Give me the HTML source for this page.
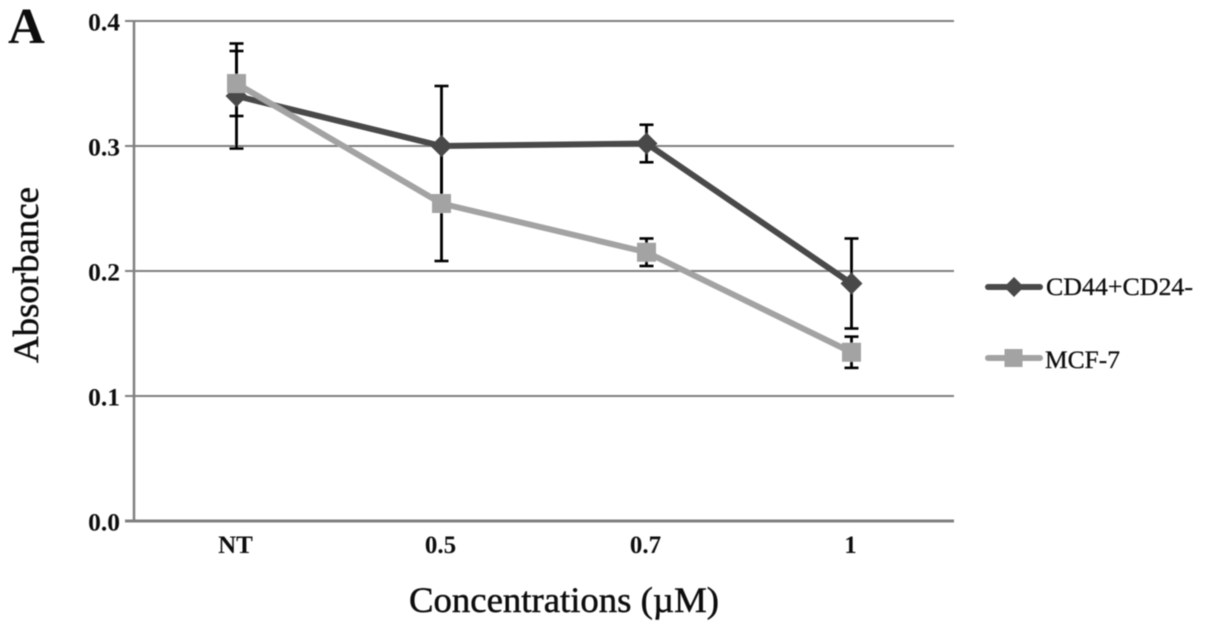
<!DOCTYPE html>
<html>
<head>
<meta charset="utf-8">
<style>
html,body{margin:0;padding:0;background:#fff;width:1205px;height:632px;overflow:hidden}
svg{display:block}
text{font-family:"Liberation Serif",serif;fill:#111}
</style>
</head>
<body>
<svg id="chart" width="1205" height="632" viewBox="0 0 1205 632" xmlns="http://www.w3.org/2000/svg">
<defs><filter id="soft"><feGaussianBlur stdDeviation="0.5"/></filter></defs>
<g id="root" filter="url(#soft)"></g>
</svg>
<script>
const categories = ["NT", "0.5", "0.7", "1"];
const yTicks = [0.0, 0.1, 0.2, 0.3, 0.4];
const darkName = "CD44+CD24-";
const lightName = "MCF-7";
const darkValues = [0.340, 0.300, 0.302, 0.190];
const darkErrors = [0.042, 0.048, 0.015, 0.036];
const lightValues = [0.350, 0.254, 0.215, 0.135];
const lightErrors = [0.026, 0.046, 0.011, 0.0125];

const NS = "http://www.w3.org/2000/svg";
const root = document.getElementById("root");
const plotLeft = 134, plotRight = 954, plotTop = 21, plotBottom = 521;
const yMax = 0.4;
function yScale(v){ return plotBottom - (v / yMax) * (plotBottom - plotTop); }
function xScale(i){ return plotLeft + (i + 0.5) * (plotRight - plotLeft) / categories.length; }
function add(tag, attrs, text){
  const el = document.createElementNS(NS, tag);
  for (const k in attrs) el.setAttribute(k, attrs[k]);
  if (text !== undefined) el.textContent = text;
  root.appendChild(el);
  return el;
}
function diamondPoints(cx, cy, r){
  return [[cx, cy - r], [cx + r, cy], [cx, cy + r], [cx - r, cy]].map(p => p.join(",")).join(" ");
}

// gridlines and y ticks
yTicks.forEach(function(t){
  const y = yScale(t);
  const line = add("line", {x1: plotLeft - 9, x2: plotRight, y1: y, y2: y, stroke: "#808080", "stroke-width": t === 0 ? 3 : 2});
  
  
  const label = add("text", {x: 120, y: y + 9.5, "text-anchor": "end", "font-size": 25.5, "font-weight": "bold"}, t.toFixed(1));
  
  
});

// y axis
const yAxis = add("line", {x1: plotLeft, x2: plotLeft, y1: plotTop, y2: plotBottom, stroke: "#808080", "stroke-width": 2.5});



// x labels
categories.forEach(function(c, i){
  const label = add("text", {x: xScale(i) - 1, y: 553, "text-anchor": "middle", "font-size": 25, "font-weight": "bold"}, c);
  
  
});

function drawErrors(values, errors){
  values.forEach(function(v, i){
    const x = xScale(i), hi = yScale(v + errors[i]), lo = yScale(v - errors[i]);
    const stem = add("line", {x1: x, x2: x, y1: hi, y2: lo, stroke: "#000", "stroke-width": 2.8});
    
    
    [hi, lo].forEach(function(y){
      const cap = add("line", {x1: x - 7, x2: x + 7, y1: y, y2: y, stroke: "#000", "stroke-width": 2.6});
      
      
    });
  });
}
function drawLine(values, color, name){
  const pts = values.map((v, i) => xScale(i) + "," + yScale(v)).join(" ");
  const line = add("polyline", {points: pts, fill: "none", stroke: color, "stroke-width": 6, "stroke-linejoin": "round"});
  
  
}

drawErrors(darkValues, darkErrors);
drawErrors(lightValues, lightErrors);
drawLine(darkValues, "#4a4a4a", "series-line-cd44-cd24");
drawLine(lightValues, "#a3a3a3", "series-line-mcf7");

darkValues.forEach(function(v, i){
  const m = add("polygon", {points: diamondPoints(xScale(i), yScale(v), 11), fill: "#4a4a4a"});
  
  
});
lightValues.forEach(function(v, i){
  const m = add("rect", {x: xScale(i) - 9.5, y: yScale(v) - 9.5, width: 19, height: 19, fill: "#a3a3a3"});
  
  
});

// legend
const l1 = add("line", {x1: 988, x2: 1040, y1: 287, y2: 287, stroke: "#4a4a4a", "stroke-width": 6, "stroke-linecap": "round"});


const l1m = add("polygon", {points: diamondPoints(1014, 287, 10), fill: "#4a4a4a"});


const l1t = add("text", {x: 1046, y: 295, "font-size": 25.5, textLength: 147, lengthAdjust: "spacingAndGlyphs", stroke: "#111", "stroke-width": 0.3}, darkName);


const l2 = add("line", {x1: 988, x2: 1040, y1: 358, y2: 358, stroke: "#a3a3a3", "stroke-width": 6, "stroke-linecap": "round"});


const l2m = add("rect", {x: 1004.5, y: 349, width: 18, height: 18, fill: "#a3a3a3"});


const l2t = add("text", {x: 1045, y: 368, "font-size": 25.5, textLength: 75, lengthAdjust: "spacingAndGlyphs", stroke: "#111", "stroke-width": 0.3}, lightName);



// titles
const xt = add("text", {x: 564, y: 612, "text-anchor": "middle", "font-size": 36, textLength: 310, lengthAdjust: "spacingAndGlyphs", stroke: "#111", "stroke-width": 0.5}, "Concentrations (µM)");


const yt = add("text", {x: 0, y: 0, transform: "translate(38,275) rotate(-90)", "text-anchor": "middle", "font-size": 36, textLength: 176, lengthAdjust: "spacingAndGlyphs", stroke: "#111", "stroke-width": 0.5}, "Absorbance");


const panel = add("text", {x: 8, y: 43, "font-size": 51, "font-weight": "bold"}, "A");


</script>
</body>
</html>
